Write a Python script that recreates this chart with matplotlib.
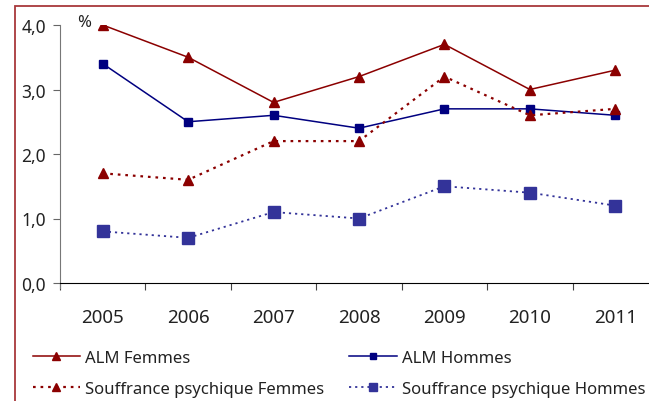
import matplotlib.pyplot as plt
from matplotlib.patches import Rectangle

years = ['2005', '2006', '2007', '2008', '2009', '2010', '2011']
alm_femmes = [4.0, 3.5, 2.8, 3.2, 3.7, 3.0, 3.3]
alm_hommes = [3.4, 2.5, 2.6, 2.4, 2.7, 2.7, 2.6]
souff_femmes = [1.7, 1.6, 2.2, 2.2, 3.2, 2.6, 2.7]
souff_hommes = [0.8, 0.7, 1.1, 1.0, 1.5, 1.4, 1.2]
yticks = [0.0, 1.0, 2.0, 3.0, 4.0]
ytick_labels = ['0,0', '1,0', '2,0', '3,0', '4,0']

plt.rcParams['font.family'] = ['Noto Sans', 'DejaVu Sans']

W, H = 649, 402
fig = plt.figure(figsize=(W / 100, H / 100), dpi=100)

# outer frame of the original graphic (cut off at right and bottom)
fig.patches.append(Rectangle((15 / W, -0.5), 2, 1.5 - 7 / H, transform=fig.transFigure,
                             fill=False, edgecolor='#a8383c', linewidth=1.3))

ax = fig.add_axes([60 / W, 1 - 284 / H, 598 / W, 258 / H])
x = range(len(years))

l1, = ax.plot(x, alm_femmes, color='#8b0000', lw=1.1, marker='^', ms=7, label='ALM Femmes')
l2, = ax.plot(x, alm_hommes, color='#000080', lw=1.1, marker='s', ms=6, label='ALM Hommes')
l3, = ax.plot(x, souff_femmes, color='#8b0000', lw=1.6, ls=(0, (1.2, 2.2)), marker='^', ms=7,
              label='Souffrance psychique Femmes')
l4, = ax.plot(x, souff_hommes, color='#333399', lw=1.3, ls=(0, (1.2, 2.2)), marker='s', ms=8,
              label='Souffrance psychique Hommes')

ax.set_xlim(-0.5, len(years) - 0.5)
ax.set_ylim(0, 4.0)
ax.set_yticks(yticks)
ax.set_yticklabels(ytick_labels, fontsize=12.5, color='#222222')
ax.set_xticks([i + 0.5 for i in range(-1, len(years))], minor=False)
ax.set_xticklabels([])
ax.set_xticks(list(x), minor=True)
ax.set_xticklabels(years, minor=True, fontsize=13.5, color='#222222')
ax.tick_params(axis='x', which='major', direction='out', length=5, color='#444444')
ax.tick_params(axis='x', which='minor', length=0, pad=18)
ax.tick_params(axis='y', direction='out', length=5, color='#666666', pad=5)

for s in ['top', 'right']:
    ax.spines[s].set_visible(False)
ax.spines['left'].set_color('#777777')
ax.spines['left'].set_bounds(-0.08, 4.0)
ax.spines['bottom'].set_color('black')
ax.patch.set_visible(False)

ax.text(0.028, 1.012, '%', transform=ax.transAxes, fontsize=12, va='center', ha='left',
        color='#222222')

fig.legend([l1, l3, l2, l4], [l.get_label() for l in (l1, l3, l2, l4)],
           loc='upper left', bbox_to_anchor=(26 / W, 1 - 344 / H), ncol=2, frameon=False,
           fontsize=12, handlelength=2.85, handletextpad=0.3, columnspacing=1.5,
           labelspacing=0.9, borderaxespad=0, markerscale=0.75, labelcolor='#222222')

fig.savefig('out.png', dpi=100)
